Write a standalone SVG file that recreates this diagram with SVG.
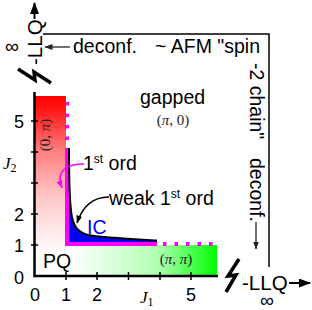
<svg xmlns="http://www.w3.org/2000/svg" width="312" height="310" viewBox="0 0 312 310">
<style>
.t{font-family:"Liberation Sans",Arial,sans-serif;font-size:19.5px;fill:#000}
.tk{font-family:"Liberation Sans",Arial,sans-serif;font-size:18px;text-anchor:middle;fill:#000}
.m{font-family:"Liberation Serif","Times New Roman",serif;font-size:15px;fill:#222;text-anchor:middle}
.j{font-family:"Liberation Serif","Times New Roman",serif;font-size:17px;font-style:italic;fill:#000}
.ax{stroke:#000;stroke-width:2.5;fill:none}
.tick{stroke:#000;stroke-width:1.5;fill:none}
.brk{stroke:#000;stroke-width:3.5;fill:none;stroke-linejoin:miter}
.mag{stroke:#ff00ff;stroke-width:4;fill:none}
.magdot{stroke:#ff00ff;stroke-width:4;fill:none;stroke-dasharray:3.5 8}
.bl{stroke:#000;stroke-width:1.5;fill:none}
</style>
<defs>
<linearGradient id="gRed" gradientUnits="userSpaceOnUse" x1="0" y1="96" x2="0" y2="255">
<stop offset="0" stop-color="#ff0000"/>
<stop offset="0.08" stop-color="#ff1414"/>
<stop offset="0.35" stop-color="#ff8080"/>
<stop offset="0.65" stop-color="#ffcaca"/>
<stop offset="1" stop-color="#ffffff"/>
</linearGradient>
<linearGradient id="gGreen" gradientUnits="userSpaceOnUse" x1="70" y1="0" x2="217" y2="0">
<stop offset="0" stop-color="#ffffff"/>
<stop offset="0.6" stop-color="#b0ffb0"/>
<stop offset="1" stop-color="#00ff00"/>
</linearGradient>
<marker id="ahBig" viewBox="0 0 12 9" refX="11" refY="4.5" markerWidth="12" markerHeight="9" markerUnits="userSpaceOnUse" orient="auto"><path d="M0,0 L12,4.5 L0,9 z" fill="#000"/></marker>
<marker id="ahSm" viewBox="0 0 8 6" refX="7.5" refY="3" markerWidth="8" markerHeight="6" markerUnits="userSpaceOnUse" orient="auto"><path d="M0,0 L8,3 L0,6 z" fill="#222"/></marker>
<marker id="ahBlk" viewBox="0 0 8 6" refX="7.5" refY="3" markerWidth="8" markerHeight="6" markerUnits="userSpaceOnUse" orient="auto"><path d="M0,0 L8,3 L0,6 z" fill="#000"/></marker>
<marker id="ahMag" viewBox="0 0 8 6" refX="7.5" refY="3" markerWidth="8" markerHeight="6" markerUnits="userSpaceOnUse" orient="auto"><path d="M0,0 L8,3 L0,6 z" fill="#ff00ff"/></marker>
</defs>

<g id="phase-00pi">
<rect x="35" y="96" width="31" height="180" fill="url(#gRed)"/>
<text class="m" transform="translate(50,135) rotate(-90)">(0, <tspan font-style="italic">π</tspan>)</text>
</g>
<g id="phase-pipi">
<rect x="66" y="245" width="151" height="31" fill="url(#gGreen)"/>
<text class="m" x="176" y="264">(<tspan font-style="italic">π</tspan>, <tspan font-style="italic">π</tspan>)</text>
</g>
<g id="phase-IC">
<path d="M67,148 L69,148 C69,185 70,208 72,217 C74,227 78,232 88,235 C100,237.5 130,239 157,240.5 L157,245 L67,245 Z" fill="#0000ff"/>
<text class="t" x="87" y="234" style="fill:#0000ff">IC</text>
</g>
<g id="phase-gapped">
<text class="t" x="140" y="104">gapped</text>
<text class="m" x="173" y="125">(<tspan font-style="italic">π</tspan>, 0)</text>
</g>
<g id="phase-PQ">
<text class="t" x="43" y="268">PQ</text>
</g>

<g id="boundaries">
<path class="mag" d="M67,148 L67,244 L157,244"/>
<path class="magdot" d="M67,102 L67,148"/>
<path class="magdot" d="M163,244 L217,244"/>
<path d="M69,148 C69,185 70,208 72,217 C74,227 78,232 88,235 C100,237.5 130,239 157,240.5" stroke="#000" stroke-width="2" fill="none"/>
</g>

<g id="axes">
<path class="ax" d="M34.5,92 L34.5,276 L218,276"/>
<path class="tick" d="M31,121 H38 M31,152 H38 M31,183 H38 M31,214 H38 M31,245 H38"/>
<path class="tick" d="M66,272 V280 M97,272 V280 M128.5,272 V280 M160,272 V280 M191,272 V280"/>
<text class="tk" x="19" y="127.5">5</text>
<text class="tk" x="19" y="220.5">2</text>
<text class="tk" x="19" y="251.5">1</text>
<text class="tk" x="19" y="283.5">0</text>
<text class="tk" x="35" y="301">0</text>
<text class="tk" x="66" y="301">1</text>
<text class="tk" x="97" y="301">2</text>
<text class="tk" x="191" y="301">5</text>
<text class="j" x="3" y="169">J<tspan font-size="12" font-style="normal" dy="3">2</tspan></text>
<text class="j" x="140" y="303">J<tspan font-size="12" font-style="normal" dy="3">1</tspan></text>
<path class="brk" d="M18,69 L35,80 L34,72 L51,83"/>
<path class="brk" d="M239,259 L228,276 L236,275 L226,292"/>
</g>

<g id="limit-LLQ-J2">
<text class="t" style="font-size:20.5px" transform="translate(42,65) rotate(-90)">-LLQ</text>
<text class="t" x="12" y="53" text-anchor="middle">∞</text>
</g>
<g id="limit-LLQ-J1">
<text class="t" style="font-size:20.5px" x="242" y="290">-LLQ</text>
<text class="t" x="267" y="307" text-anchor="middle">∞</text>
</g>
<g id="label-AFM">
<text class="t" x="155" y="53">~ AFM "spin</text>
<text class="t" transform="translate(250,63) rotate(90)">-2 chain"</text>
<text class="t" transform="translate(250,158) rotate(90)">deconf.</text>
</g>
<g id="label-deconf-left">
<text class="t" x="73" y="53">deconf.</text>
</g>
<g id="label-1st">
<text class="t" x="83" y="170">1<tspan style="font-size:12px" dy="-7">st</tspan><tspan dy="7"> ord</tspan></text>
</g>
<g id="label-weak">
<text class="t" x="109" y="205">weak 1<tspan style="font-size:12px" dy="-7">st</tspan><tspan dy="7"> ord</tspan></text>
</g>

<g id="connectors">
<path d="M43,34 L269,34 L269,267" stroke="#000" stroke-width="1.5" fill="none"/>
<path d="M34.5,19 L34.5,3" stroke="#000" stroke-width="2" fill="none" marker-end="url(#ahBig)"/>
<path d="M289,283 L310,283" stroke="#000" stroke-width="2" fill="none" marker-end="url(#ahBig)"/>
<path d="M70,47 L45,47" stroke="#222" stroke-width="1.3" fill="none" marker-end="url(#ahSm)"/>
<path d="M256,222 L256,249" stroke="#222" stroke-width="1.3" fill="none" marker-end="url(#ahSm)"/>
<path d="M109,197 C95,197 83,205 77,223" class="bl" marker-end="url(#ahBlk)"/>
<path d="M84,164 C68,164 55,170 62,188" stroke="#ff00ff" stroke-width="1.5" fill="none" marker-end="url(#ahMag)"/>
</g>
</svg>
